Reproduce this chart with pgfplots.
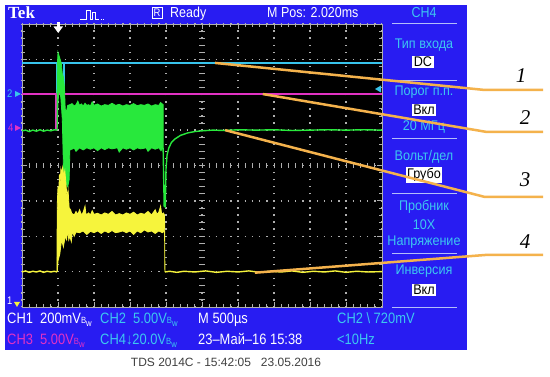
\documentclass[border=0pt]{standalone}
\usepackage{fontspec}
\setmainfont{Liberation Sans}
\newfontfamily\tek[FakeStretch=0.86]{Liberation Sans}
\newfontfamily\tekm[FakeStretch=0.9]{Liberation Sans}
\newfontfamily\lbl{Liberation Serif}
\usepackage{pgfplots}
\pgfplotsset{compat=1.18}
\definecolor{tekblue}{RGB}{40,28,242}
\definecolor{tcyan}{RGB}{56,196,236}
\definecolor{tmag}{RGB}{226,50,196}
\definecolor{tgreen}{RGB}{40,232,60}
\definecolor{tyel}{RGB}{246,244,60}
\definecolor{callout}{RGB}{244,178,76}
\definecolor{sepc}{RGB}{180,190,250}
\definecolor{menutxt}{RGB}{60,200,240}
\definecolor{gridc}{RGB}{175,175,175}
\newcommand{\bw}{{\fontsize{9}{9}\selectfont B\raisebox{-2pt}{w}}}
\newcommand{\sz}[1]{\fontsize{#1}{#1}\selectfont}

\begin{document}
\begin{tikzpicture}
\begin{scope}[x=1pt,y=-1pt]
\path[use as bounding box, fill=white] (0,0) rectangle (550,377);
\fill[tekblue] (5,5) rectangle (467,350);
\end{scope}

\begin{axis}[
  at={(22pt,-307pt)}, anchor=south west,
  scale only axis, width=360pt, height=283pt,
  xmin=0, xmax=10, ymin=0, ymax=8,
  axis background/.style={fill=black},
  axis line style={draw=gridc, line width=0.6pt},
  xtick={0,...,10}, ytick={0,...,8},
  minor x tick num=4, minor y tick num=4,
  xticklabels={}, yticklabels={},
  tick align=inside, major tick length=5pt, minor tick length=3pt,
  tick style={gridc, line width=0.9pt},
  grid=major,
  major x grid style={gridc, line width=1.4pt, dash pattern=on 1.4pt off 5.675pt, dash phase=0.7pt},
  major y grid style={gridc, line width=1.4pt, dash pattern=on 1.4pt off 5.8pt, dash phase=0.7pt},
]
% centre cross of the graticule
\pgfplotsinvokeforeach{0,0.2,...,8}{\draw[gridc, line width=0.9pt] (axis cs:4.93,#1) -- (axis cs:5.07,#1);}
\pgfplotsinvokeforeach{0,0.2,...,10}{\draw[gridc, line width=0.9pt] (axis cs:#1,3.93) -- (axis cs:#1,4.07);}

% CH2 (cyan)
\addplot[tcyan, line width=1.6pt] coordinates {(0,6.9)(10,6.9)};
\addplot[tcyan, line width=1.6pt] coordinates {(0.97,6.9)(0.97,6.02)(1.17,6.02)(1.17,6.9)};
% CH3 (magenta)
\addplot[tmag, line width=1.6pt] coordinates {(0,6.02)(10,6.02)};
\addplot[tmag, line width=1.6pt] coordinates {(0.94,5.0)(0.94,6.02)};

% CH4 (green)
\addplot[tgreen, line width=1.4pt] coordinates {
 (0,4.98)(0.1,5.0)(0.2,4.96)(0.3,5.0)(0.4,4.97)(0.5,5.01)(0.6,4.97)(0.7,5.0)(0.8,4.98)(0.9,5.01)(0.97,5.0)};
\addplot[fill=tgreen, draw=tgreen, line width=0.8pt] coordinates {
 (0.97,5.0)(0.98,6.8)(1.0,7.2)(1.03,7.1)(1.06,7.0)(1.09,6.9)(1.12,6.6)(1.15,6.5)(1.18,6.2)(1.2,5.6)(1.23,5.5)(1.27,5.7)
 (1.33,5.72)(1.39,5.75)(1.45,5.68)(1.5,5.72)(1.55,5.82)(1.6,5.7)(1.65,5.74)(1.7,5.68)(1.75,5.76)(1.8,5.7)(1.85,5.72)
 (1.9,5.68)(1.95,5.8)(2.0,5.7)(2.1,5.74)(2.2,5.68)(2.3,5.72)(2.4,5.7)(2.5,5.76)(2.6,5.7)(2.7,5.73)(2.8,5.68)(2.9,5.72)
 (3.0,5.7)(3.1,5.75)(3.2,5.69)(3.3,5.72)(3.4,5.7)(3.5,5.74)(3.6,5.68)(3.7,5.72)(3.8,5.7)(3.85,5.78)(3.92,5.72)
 (3.92,4.5)(3.86,4.42)(3.8,4.5)(3.7,4.46)(3.6,4.5)(3.5,4.4)(3.45,4.5)(3.3,4.47)(3.2,4.5)(3.1,4.44)(3.0,4.5)(2.9,4.46)
 (2.8,4.5)(2.7,4.38)(2.65,4.5)(2.5,4.47)(2.4,4.5)(2.3,4.45)(2.2,4.5)(2.1,4.42)(2.0,4.5)(1.9,4.46)(1.8,4.5)(1.7,4.44)
 (1.6,4.5)(1.5,4.4)(1.45,4.5)(1.39,4.46)(1.33,4.45)(1.31,3.6)(1.27,3.4)(1.22,3.5)(1.18,3.4)(1.15,4.0)(1.12,5.3)
 (1.08,5.9)(1.04,6.2)(1.0,5.8)(0.98,5.0)};
\addplot[tgreen, line width=1.4pt] coordinates {
 (3.92,4.5)(3.95,2.85)(3.98,2.83)(4.0,3.9)(4.03,4.3)(4.08,4.5)(4.15,4.65)(4.25,4.75)(4.4,4.85)(4.6,4.92)(4.8,4.96)
 (5.0,4.98)(5.3,5.0)(5.6,4.99)(6.0,5.01)(6.5,5.0)(7.0,5.01)(7.5,4.99)(8.0,5.0)(8.5,5.01)(9.0,5.0)(9.5,5.01)(10,5.0)};

% CH1 (yellow)
\addplot[tyel, line width=1.4pt] coordinates {
 (0,0.99)(0.1,1.02)(0.2,0.98)(0.3,1.01)(0.4,0.99)(0.5,1.02)(0.6,0.98)(0.7,1.01)(0.8,0.99)(0.9,1.01)(0.97,0.99)};
\addplot[fill=tyel, draw=tyel, line width=0.8pt] coordinates {
 (0.97,0.99)(0.98,2.9)(1.0,3.4)(1.02,3.2)(1.04,3.75)(1.06,3.5)(1.08,3.9)(1.1,3.8)(1.13,3.95)(1.16,3.7)(1.19,3.85)
 (1.22,3.5)(1.25,3.1)(1.28,3.3)(1.31,2.8)(1.35,2.75)(1.38,2.65)
 (1.45,2.6)(1.5,2.7)(1.55,2.62)(1.6,2.75)(1.65,2.6)(1.7,2.68)(1.75,2.85)(1.78,2.6)(1.85,2.66)(1.9,2.6)(1.95,2.72)
 (2.0,2.62)(2.1,2.65)(2.2,2.6)(2.3,2.66)(2.4,2.62)(2.5,2.7)(2.6,2.6)(2.7,2.64)(2.8,2.6)(2.9,2.66)(3.0,2.62)(3.1,2.68)
 (3.2,2.6)(3.3,2.65)(3.4,2.62)(3.5,2.7)(3.6,2.6)(3.7,2.75)(3.75,2.62)(3.8,2.68)(3.85,2.85)(3.88,2.62)(3.93,2.66)(3.96,2.6)
 (3.97,0.99)
 (3.96,2.15)(3.9,2.1)(3.8,2.15)(3.7,2.08)(3.6,2.15)(3.5,2.12)(3.4,2.18)(3.3,2.1)(3.2,2.15)(3.1,2.05)(3.0,2.15)(2.9,2.1)
 (2.8,2.15)(2.7,2.12)(2.6,2.1)(2.5,2.16)(2.4,2.1)(2.3,2.15)(2.2,2.08)(2.1,2.15)(2.0,2.1)(1.9,2.14)(1.8,2.05)(1.7,2.15)
 (1.6,2.1)(1.5,2.12)(1.45,2.0)(1.4,2.15)(1.37,1.85)(1.33,2.0)(1.3,1.9)(1.27,2.2)(1.24,1.9)(1.2,2.0)(1.15,1.7)(1.1,1.9)
 (1.05,1.5)(1.0,1.3)(0.98,0.99)};
\addplot[tyel, line width=1.4pt] coordinates {
 (3.97,0.99)(4.1,1.01)(4.3,0.98)(4.5,1.01)(4.8,0.99)(5.1,1.02)(5.4,0.98)(5.7,1.01)(6.0,0.99)(6.3,1.02)(6.6,0.98)
 (6.9,1.01)(7.2,0.99)(7.5,1.02)(7.8,0.98)(8.1,1.01)(8.4,0.99)(8.7,1.02)(9.0,0.98)(9.3,1.01)(9.6,0.99)(10,1.0)};

\coordinate (p1) at (axis cs:5.36,6.90);
\coordinate (p2) at (axis cs:6.69,6.02);
\coordinate (p3) at (axis cs:5.64,5.0);
\coordinate (p4) at (axis cs:6.47,0.97);
\end{axis}

\begin{scope}[x=1pt,y=-1pt]
% top bar
\node[anchor=base west, white, font=\lbl\bfseries\sz{17}, inner sep=0] at (8,19) {Tek};
\draw[white, line width=0.8pt] (80,19)--(86,19)--(86,10)--(90,10)--(90,19)--(92,19)--(92,12)--(95,12)--(95,19)--(98,19);
\draw[white, line width=0.8pt, dash pattern=on 1pt off 1.5pt] (98,19)--(104,19);
\node[draw=white, line width=0.6pt, white, inner sep=1.5pt, font=\tek\sz{11}] at (157,13) {R};
\node[anchor=base west, white, font=\tek\sz{14.5}, inner sep=0] at (170,18) {Ready};
\node[anchor=base west, white, font=\tek\sz{14.5}, inner sep=0] at (267,18) {M Pos: 2.020ms};
\node[anchor=base, menutxt, font=\tek\sz{14.5}, inner sep=0] at (424,18) {CH4};
% trigger markers
\fill[white] (57,22) rectangle (59.5,27);
\fill[white] (53.5,26.5)--(63,26.5)--(58.25,33)--cycle;
\fill[tcyan] (375,89)--(381,85.5)--(381,92.5)--cycle;
\node[anchor=base west, tcyan, font=\tek\sz{11}, inner sep=0] at (7,98) {2};
\fill[tcyan] (15,91)--(21,94)--(15,97)--cycle;
\node[anchor=base west, tmag, font=\tek\sz{11}, inner sep=0] at (8,132) {4};
\fill[tmag] (15,125)--(21,128)--(15,131)--cycle;
\node[anchor=base west, white, font=\tek\sz{11}, inner sep=0] at (7,305) {1};
\fill[tyel] (14,302)--(20,302)--(17,307)--cycle;
% right menu
\draw[sepc, line width=1pt] (392,24)--(457,24);
\node[menutxt, font=\tekm\sz{14}] at (424,45) {Тип входа};
\node[fill=white, text=black, inner sep=1.5pt, font=\tekm\sz{14}] at (423,62) {DC};
\draw[sepc, line width=1pt] (392,81)--(457,81);
\node[menutxt, font=\tekm\sz{14}] at (424,92) {Порог п.п.};
\node[fill=white, text=black, inner sep=1.5pt, font=\tekm\sz{14}] at (424,110) {Вкл};
\node[menutxt, font=\tekm\sz{14}] at (424,127) {20 МГц};
\draw[sepc, line width=1pt] (392,139)--(457,139);
\node[menutxt, font=\tekm\sz{14}] at (424,157) {Вольт/дел};
\node[fill=white, text=black, inner sep=1.5pt, font=\tekm\sz{14}] at (424,175) {Грубо};
\draw[sepc, line width=1pt] (392,194)--(457,194);
\node[menutxt, font=\tekm\sz{14}] at (424,207) {Пробник};
\node[menutxt, font=\tekm\sz{14}] at (424,225) {10X};
\node[menutxt, font=\tekm\sz{14}] at (424,242) {Напряжение};
\draw[sepc, line width=1pt] (392,254)--(457,254);
\node[menutxt, font=\tekm\sz{14}] at (424,271) {Инверсия};
\node[fill=white, text=black, inner sep=1.5pt, font=\tekm\sz{14}] at (424,290) {Вкл};
\draw[sepc, line width=1pt] (392,308)--(457,308);
% status lines
\node[anchor=base west, white, font=\tek\sz{15}, inner sep=0] at (7,324) {CH1};
\node[anchor=base west, white, font=\tek\sz{15}, inner sep=0] at (40,324) {200mV\bw};
\node[anchor=base west, menutxt, font=\tek\sz{15}, inner sep=0] at (100,324) {CH2};
\node[anchor=base west, menutxt, font=\tek\sz{15}, inner sep=0] at (133,324) {5.00V\bw};
\node[anchor=base west, white, font=\tek\sz{15}, inner sep=0] at (198,324) {M 500µs};
\node[anchor=base west, menutxt, font=\tek\sz{15}, inner sep=0] at (337,324) {CH2 \textbackslash{} 720mV};
\node[anchor=base west, tmag, font=\tek\sz{15}, inner sep=0] at (7,345) {CH3};
\node[anchor=base west, tmag, font=\tek\sz{15}, inner sep=0] at (40,345) {5.00V\bw};
\node[anchor=base west, menutxt, font=\tek\sz{15}, inner sep=0] at (100,345) {CH4↓20.0V\bw};
\node[anchor=base west, white, font=\tek\sz{15}, inner sep=0] at (198,345) {23–Май–16 15:38};
\node[anchor=base west, menutxt, font=\tek\sz{15}, inner sep=0] at (337,345) {<10Hz};
% caption
\node[text=black!75, font=\sz{12}] at (226,362) {TDS 2014C - 15:42:05\ \ \ 23.05.2016};
% callouts
\draw[callout, line width=2.5pt, line join=round] (p1) -- (485,90) -- (543,90);
\draw[callout, line width=2.5pt, line join=round] (p2) -- (487,132) -- (543,132);
\draw[callout, line width=2.5pt, line join=round] (p3) -- (485,197) -- (543,197);
\draw[callout, line width=2.5pt, line join=round] (p4) -- (485,255) -- (543,255);
\node[font=\lbl\itshape\sz{21}] at (521,76) {1};
\node[font=\lbl\itshape\sz{21}] at (525,118) {2};
\node[font=\lbl\itshape\sz{21}] at (525,180) {3};
\node[font=\lbl\itshape\sz{21}] at (525,242) {4};
\end{scope}
\end{tikzpicture}
\end{document}
